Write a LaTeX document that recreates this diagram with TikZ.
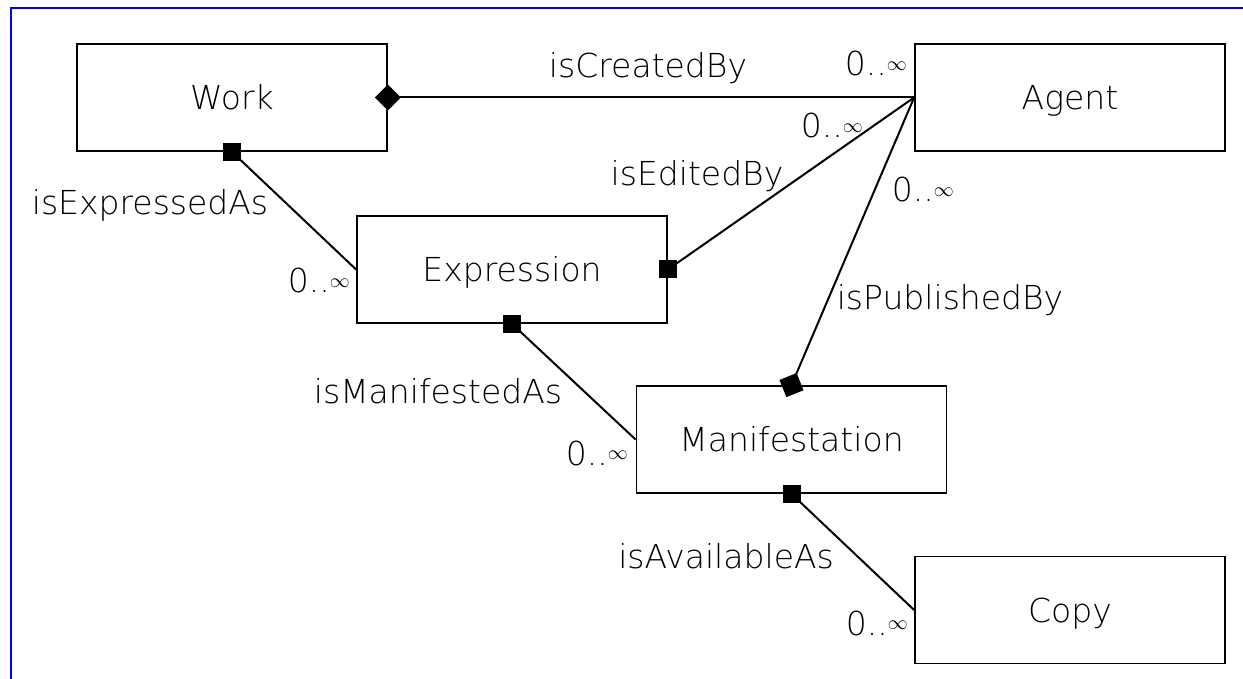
\documentclass[tikz,border=0pt]{standalone}
\usepackage{fontspec}
\setmainfont{DejaVu Sans ExtraLight}
\usetikzlibrary{shapes.geometric}

% multiplicity label, small raised infinity
\newcommand{\zeroinf}{0..\raisebox{0.18em}{\scalebox{0.8}{$\infty$}}}

\begin{document}
\begin{tikzpicture}
  [x=1pt,y=-1pt,every node/.style={font=\fontsize{33}{38}\selectfont}]
  \tikzstyle{entity} = [draw,line width=1.8pt,minimum width=310pt,minimum height=107pt,
                        text height=24pt,text depth=0pt]
  \tikzstyle{rel} = [line width=2pt]
  \tikzstyle{sqmark} = [fill=black,minimum size=18pt,inner sep=0pt]
  \tikzstyle{dmark} = [diamond,fill=black,minimum size=27pt,inner sep=0pt,sloped]
  \tikzstyle{lbl} = [inner sep=0pt,anchor=base]
  \tikzstyle{mult} = [inner sep=0pt,anchor=base east]

  \useasboundingbox (0,0) rectangle (1243,679);
  \draw[blue,line width=2pt] (10.5,679) -- (10.5,8.5) -- (1243,8.5);

  \node[entity] (work) at (232,97.5) {Work};
  \node[entity] (agent) at (1070,97.5) {Agent};
  \node[entity] (expr) at (512,269.5) {Expression};
  \node[entity] (manif) at (791.5,439.5) {Manifestation};
  \node[entity] (copy) at (1070,610) {Copy};

  % aggregation links (square end)
  \foreach \from/\to/\m in {work.south/expr.west/a,expr.east/agent.west/b,
                            expr.south/manif.west/c,manif.south/copy.west/d}
    \draw[rel] (\from) -- node[pos=0,sqmark] (sq\m) {} (\to);

  % composition links (diamond end)
  \draw[rel] (work.east) -- node[pos=0,dmark] (dma) {} (agent.west);
  \draw[rel] (manif.north) -- node[pos=0,dmark] (dmb) {} (agent.west);

  \node[lbl] (created) at (648,78) {isCreatedBy};
  \node[lbl] (edited) at (697,186) {isEditedBy};
  \node[lbl] (expressed) at (150,215) {isExpressedAs};
  \node[lbl] (published) at (950,309) {isPublishedBy};
  \node[lbl] (manifested) at (438,403) {isManifestedAs};
  \node[lbl] (available) at (726,568) {isAvailableAs};

  \node[mult] (m1) at (907,76) {\zeroinf};
  \node[mult] (m2) at (863,138) {\zeroinf};
  \node[mult] (m3) at (954,202) {\zeroinf};
  \node[mult] (m4) at (350,293) {\zeroinf};
  \node[mult] (m5) at (628,465) {\zeroinf};
  \node[mult] (m6) at (908,635) {\zeroinf};

\end{tikzpicture}
\end{document}
